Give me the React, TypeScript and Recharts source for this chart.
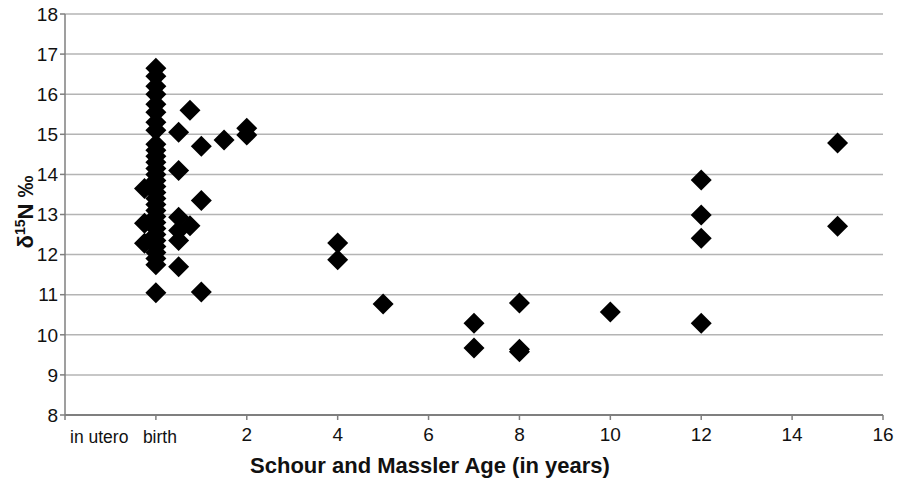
import { CartesianGrid, Label, Scatter, ScatterChart, XAxis, YAxis } from "recharts";

// Schour and Massler age (years) for each sample; "in utero" sits at -2, "birth" at 0
const ages = [
    0, 0, 0, 0, 0, 0, 0, 0,
    0, 0, 0, 0, 0, 0, 0, 0, 0, 0, 0, 0, 0, 0, 0, 0, 0, 0, 0, 0, 0, 0,
    -0.25, -0.25, -0.25,
    0.5, 0.5, 0.5, 0.5, 0.5, 0.5,
    0.75, 0.75,
    1, 1, 1,
    1.5,
    2, 2,
    4, 4,
    5,
    7, 7,
    8, 8, 8,
    10,
    12, 12, 12, 12,
    15, 15,
];

// matching delta 15N values (per mil)
const d15N = [
    16.65, 16.45, 16.2, 16.0, 15.75, 15.55, 15.3, 15.1,
    14.75, 14.6, 14.45, 14.3, 14.15, 14.0, 13.85, 13.7, 13.55, 13.4, 13.25, 13.1, 12.95, 12.8, 12.65, 12.5, 12.35, 12.2, 12.05, 11.9, 11.75, 11.05,
    13.65, 12.78, 12.28,
    15.05, 14.1, 12.93, 12.6, 12.35, 11.7,
    15.6, 12.72,
    14.7, 13.35, 11.07,
    14.86,
    15.15, 14.98,
    12.29, 11.87,
    10.77,
    10.29, 9.67,
    10.79, 9.64, 9.58,
    10.57,
    13.86, 12.99, 12.41, 10.29,
    14.78, 12.71,
];

const xTicks = [-2, 0, 2, 4, 6, 8, 10, 12, 14, 16];
const yTicks = [8, 9, 10, 11, 12, 13, 14, 15, 16, 17, 18];
const xTickNames: Record<number, string> = { [-2]: "in utero", 0: "birth" };

const points = ages.map((age, i) => ({ age, n15: d15N[i] }));

const FONT = "Liberation Sans, Arial, sans-serif";

function Diamond(props: any) {
    const { cx, cy } = props;
    const r = 10.5;
    return (
        <path
            d={`M${cx},${cy - r}L${cx + r},${cy}L${cx},${cy + r}L${cx - r},${cy}Z`}
            fill="#000"
        />
    );
}

function AgeTick(props: any) {
    const { x, y, payload } = props;
    const name = xTickNames[payload.value];
    if (payload.value === -2) {
        return (
            <text x={x + 5} y={y + 21} textAnchor="start" fontSize={17.5} fill="#111" fontFamily={FONT}>
                {name}
            </text>
        );
    }
    if (payload.value === 0) {
        return (
            <text x={x - 13} y={y + 21} textAnchor="start" fontSize={17.5} fill="#111" fontFamily={FONT}>
                {name}
            </text>
        );
    }
    return (
        <text x={x} y={y + 19} textAnchor="middle" fontSize={19} fill="#111" fontFamily={FONT}>
            {payload.value}
        </text>
    );
}

export default function App() {
    return (
        <div style={{ position: "absolute", left: 0, top: 0, width: 898, height: 480, background: "#fff" }}>
            <ScatterChart width={898} height={480} margin={{ top: 14, right: 15, bottom: 35, left: 0 }}>
                <CartesianGrid vertical={false} stroke="#b4b4b4" strokeWidth={1.5} />
                <XAxis
                    type="number"
                    dataKey="age"
                    domain={[-2, 16]}
                    ticks={xTicks}
                    interval={0}
                    height={30}
                    tick={<AgeTick />}
                    tickSize={5}
                    axisLine={{ stroke: "#7f7f7f", strokeWidth: 2 }}
                    tickLine={{ stroke: "#7f7f7f", strokeWidth: 1.5 }}
                >
                    <Label
                        value="Schour and Massler Age (in years)"
                        position="insideBottom"
                        offset={-28}
                        dx={-44}
                        style={{ fontSize: 22, fontWeight: "bold", fill: "#111", fontFamily: FONT }}
                    />
                </XAxis>
                <YAxis
                    type="number"
                    dataKey="n15"
                    domain={[8, 18]}
                    ticks={yTicks}
                    interval={0}
                    width={65}
                    tickSize={5}
                    tick={{ fontSize: 19, fill: "#111", fontFamily: FONT }}
                    axisLine={{ stroke: "#7f7f7f", strokeWidth: 1.5 }}
                    tickLine={{ stroke: "#7f7f7f", strokeWidth: 1.5 }}
                >
                    <Label
                        content={() => (
                            <text
                                x={0}
                                y={0}
                                transform="translate(33, 212) rotate(-90)"
                                textAnchor="middle"
                                fontSize={22}
                                fontWeight="bold"
                                fill="#111"
                                fontFamily={FONT}
                            >
                                δ<tspan fontSize={14} dy={-8}>15</tspan>
                                <tspan dy={8}>N ‰</tspan>
                            </text>
                        )}
                    />
                </YAxis>
                <Scatter data={points} shape={<Diamond />} isAnimationActive={false} />
            </ScatterChart>
        </div>
    );
}
